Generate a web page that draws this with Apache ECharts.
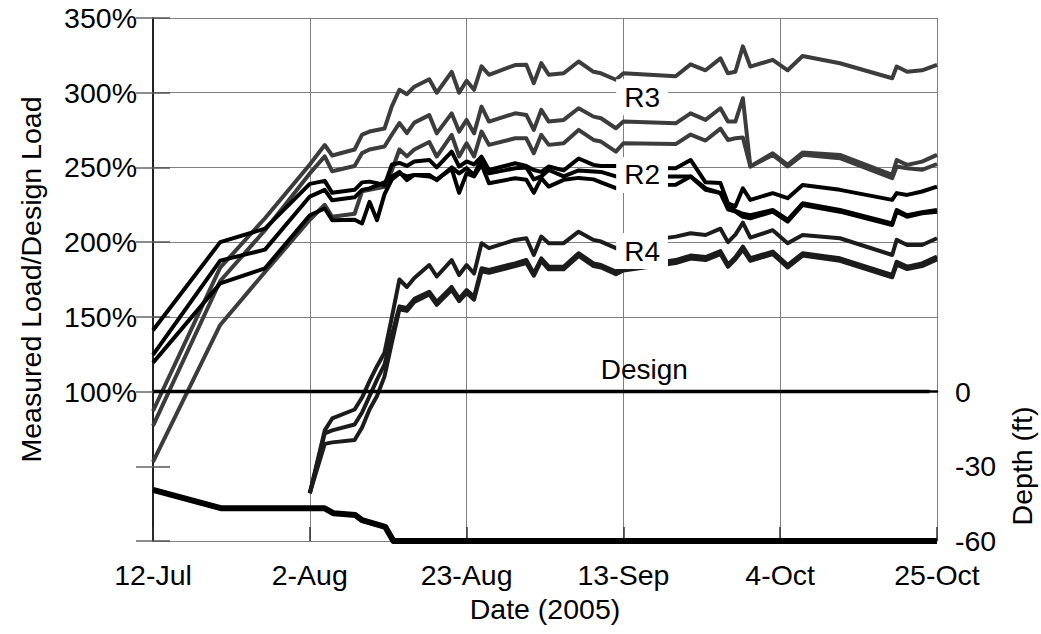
<!DOCTYPE html>
<html><head><meta charset="utf-8">
<script src="https://cdn.jsdelivr.net/npm/echarts@6/dist/echarts.min.js"></script>
<style>html,body{margin:0;padding:0;background:#fff}#c{width:1041px;height:634px}</style>
</head><body><div id="c"></div>
<script>
// days since 12-Jul-2005
const days = [0, 9, 15, 21, 23, 24, 27, 28, 29, 30, 31, 32, 33, 34, 35, 37, 38, 40, 41, 42, 43, 44, 45, 48.5, 50, 51, 52, 53, 55, 57, 59, 60, 62, 63, 70, 72, 74, 76, 77, 78, 79, 80, 83, 85, 87, 92, 99, 99.6, 101, 103, 105];
const tickLabels = ['12-Jul', '2-Aug', '23-Aug', '13-Sep', '4-Oct', '25-Oct'];

// R3 (gray)
const r3a = [87,183,216,252,265,258,262,272,274,275,276,291,302,299,304,309,300,314,300,308,302,317.6,312,318.5,318.7,306.4,319.8,312,313,320.9,314,313,308.7,313,311,319,315,323,313,314,331,317.5,322,315,324.6,319.7,309.7,317.5,314,315,318.6];
const r3b = [77,174,208,246,257.4,247.4,251,259.6,262,263,264,272,279.7,273,280,285,272.8,286.2,274,281.8,272.8,290.7,280.7,286.2,285.1,275.1,288.5,280.7,281.8,289.6,284,282.9,276.2,280.7,279.5,286.2,281.8,289.6,280.7,280.7,296.3,250.6,259.5,251.7,260,258.4,245,255,251.7,253.9,258.4];
const r3c = [53,144.6,180,215,225,217,219,234,235,236,237,248,262,257.4,262,267,257.3,271.8,257.3,266.2,257.3,274,265.1,269.5,269.5,259.5,271.8,265.1,266.2,275.1,268.4,267.3,260.6,266.2,265.6,272,268,276,268.4,269.5,270,250.6,258.4,250.6,258.4,256.2,242.8,250.6,249.5,248.4,252.3];
// R2 (black)
const r2a = [141,200,209,239,241,233,235,240,240.5,239.5,238,252,253,251,254,255,250,260.6,250.6,254,252,257.2,248.3,252.8,251,248.3,247,250.6,248,256,251.7,251,251,250,249.5,255,240,239.5,226,224,236,228.3,232.8,229.4,238.3,235,228.3,232.8,231.6,233.9,237.2];
const r2b = [124.5,187.6,195,230.5,235,228,230,235,236,238,240,244,247,241.5,245,245,241.5,250,246,249.5,245,256,246,249.5,250,242,244,248.3,244,248,247.3,247,244,244,243.9,244,236,233,225,221,219,218,221.5,215,226,221.5,212.6,221.5,218,220,221.5];
const r2c = [119.3,172.4,182.5,218,222.5,214.7,215,212.5,227,214.7,232,242,246,244,245,244,242,249,233,246,244,252,239.4,242.8,241.7,233,242.8,237.2,241.7,243,242,240,236.1,238,238.4,243.9,235,232.8,222,220.4,217,216,220.4,213.7,224.9,220.4,211.5,220.4,217,219.3,220.4];
// R4
const r4a = [null,null,null,32,74,82,88,96,107,117,126,150,175,170,176,184.7,177,188,178,184.7,179,199.3,196,201.5,202.6,191.4,203.7,199.3,199.3,207,201.5,200.4,196,199,203.7,206,204.8,209,200,205,213,203,208,199.3,204.8,202.6,191.4,201.5,198.1,198.1,202.6];
const r4b = [null,null,null,32,72,74,78,86,97,108,118,138,157,156,162,166.8,160,170,162.3,167.9,163.4,182.5,181.4,185.8,188.1,179.1,189.2,183.6,183.6,192.6,185.8,184.7,180.3,183,188,191,190,194,185,190,197,189.2,193.7,184.7,192.6,189.2,178,186.9,183.6,185.8,190.3];
const r4c = [null,null,null,32,65,66,67.6,76,88,97,110,133,155,154,160,165,158,168,160.5,166,161.5,180.5,179.5,184,186,177.5,187.5,181.8,181.8,190.8,184,183,178.5,181,186,189,188,192,183.5,188.5,195,187.5,192,183,191,187.5,176.5,185,182,184,188.5];
// Design line
const designDays = [0, 104];
const designValues = [100, 100];
// Depth (ft), right axis
const depthDays = [0, 9.2, 23, 24.2, 27.1, 28, 31.1, 32.2, 105];
const depthValues = [-39.5, -46.9, -46.9, -48.9, -49.6, -51.6, -54.3, -60, -60];

const FONT = '"Liberation Sans", Arial, sans-serif';
const FS = 28.5;

function pairs(xs, ys) {
  return xs.map((d, i) => [d, ys[i]]).filter(p => p[1] != null);
}
function tag(text, coord, bg) {
  return {
    coord: coord,
    label: {
      show: true, formatter: text, position: 'inside',
      fontSize: 28, fontFamily: FONT, color: '#000',
      backgroundColor: bg ? '#fff' : 'transparent',
      padding: bg ? [4, 8] : 0
    }
  };
}
function line(name, xs, ys, color, width, yAxisIndex, marks) {
  const s = {
    name: name, type: 'line', data: pairs(xs, ys), yAxisIndex: yAxisIndex || 0,
    showSymbol: false, symbol: 'none',
    lineStyle: { color: color, width: width, join: 'round' },
    itemStyle: { color: color },
    emphasis: { disabled: true }, silent: true
  };
  if (marks) {
    s.markPoint = { symbol: 'rect', symbolSize: 0, silent: true, z: 10, data: marks };
  }
  return s;
}

const GRAY = '#3c3c3c', R4C = '#1c1c1c';
const chart = echarts.init(document.getElementById('c'), null, { renderer: 'svg' });
chart.setOption({
  animation: false,
  backgroundColor: '#fff',
  grid: { left: 153, right: 104, top: 18, bottom: 93 },
  xAxis: [{
    type: 'value', min: 0, max: 105, interval: 21,
    name: 'Date (2005)', nameLocation: 'middle', nameGap: 53,
    nameTextStyle: { fontSize: FS, fontFamily: FONT, color: '#000' },
    axisLine: { show: true, lineStyle: { color: '#7f7f7f', width: 1 } },
    axisTick: { show: true, inside: true, length: 14, lineStyle: { color: '#333', width: 1.5 } },
    axisLabel: { fontSize: FS, fontFamily: FONT, color: '#000', margin: 19,
      formatter: v => tickLabels[Math.round(v / 21)] },
    splitLine: { show: true, lineStyle: { color: '#7f7f7f', width: 1 } }
  }, {
    type: 'value', position: 'top', min: 0, max: 105, interval: 21,
    axisLine: { show: true, lineStyle: { color: '#000', width: 2.5 } },
    axisTick: { show: false }, axisLabel: { show: false }, splitLine: { show: false }
  }],
  yAxis: [{
    type: 'value', min: 0, max: 350, interval: 50,
    name: 'Measured Load/Design Load', nameLocation: 'middle', nameGap: 108,
    nameTextStyle: { fontSize: FS, fontFamily: FONT, color: '#000' },
    axisLine: { show: true, lineStyle: { color: '#7f7f7f', width: 1.5 } },
    axisTick: { show: true, inside: true, length: 17, lineStyle: { color: '#555', width: 1.5 } },
    axisLabel: { fontSize: FS, fontFamily: FONT, color: '#000', margin: 16,
      formatter: v => v >= 100 ? v + '%' : '' },
    splitLine: { show: true, lineStyle: { width: 1,
      color: ['rgba(0,0,0,0)', 'rgba(0,0,0,0)', '#7f7f7f', '#7f7f7f', '#7f7f7f', '#7f7f7f', '#7f7f7f', '#7f7f7f'] } }
  }, {
    type: 'value', position: 'right', min: -60, max: 150, interval: 30,
    axisLine: { show: true, lineStyle: { color: '#222', width: 2 } },
    axisTick: { show: true, inside: true, length: 17, lineStyle: { color: '#666', width: 1.5 } },
    axisLabel: { fontSize: FS, fontFamily: FONT, color: '#000', margin: 18,
      formatter: v => v <= 0 ? String(v) : '' },
    splitLine: { show: false }
  }],
  series: [
    line('R3-1', days, r3a, GRAY, 4, 0, [tag('R3', [65.5, 297], true)]),
    line('R3-2', days, r3b, GRAY, 4),
    line('R3-3', days, r3c, GRAY, 4),
    line('R4-1', days, r4a, R4C, 4, 0, [tag('R4', [65.5, 194], true)]),
    line('R4-2', days, r4b, R4C, 4),
    line('R4-3', days, r4c, R4C, 4),
    line('R2-1', days, r2a, '#000', 4, 0, [tag('R2', [65.5, 245], true)]),
    line('R2-2', days, r2b, '#000', 4),
    line('R2-3', days, r2c, '#000', 4),
    line('Design', designDays, designValues, '#000', 3.5, 0, [tag('Design', [65.8, 114.5], false)]),
    line('Depth', depthDays, depthValues, '#000', 6, 1)
  ],
  graphic: [{
    type: 'text', x: 1022, y: 466, rotation: Math.PI / 2, silent: true,
    style: { text: 'Depth (ft)', x: 0, y: 0, fill: '#000', fontSize: FS, fontFamily: FONT,
      textAlign: 'center', textVerticalAlign: 'middle' }
  }]
});
</script></body></html>
